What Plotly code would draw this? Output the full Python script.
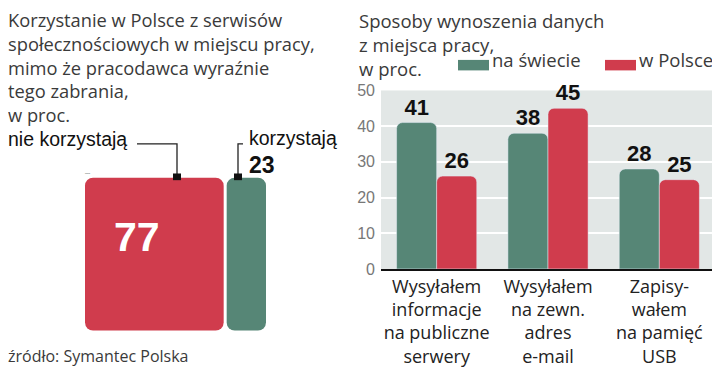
import plotly.graph_objects as go

# ---- data ----
share_labels = ["nie korzystają", "korzystają"]
share_values = [77, 23]

categories = [
    "Wysyłałem<br>informacje<br>na publiczne<br>serwery",
    "Wysyłałem<br>na zewn.<br>adres<br>e-mail",
    "Zapisy-<br>wałem<br>na pamięć<br>USB",
]
series_names = ["na świecie", "w Polsce"]
world_values = [41, 38, 28]
poland_values = [26, 45, 25]
y_ticks = [0, 10, 20, 30, 40, 50]

GREEN = "#568676"
RED = "#d03c4d"
TXT = "#3a3a3a"
FONT = "Open Sans"
BOLD = "Liberation Sans Narrow, Liberation Sans"

W, H = 720, 373
OFF = 8  # page offset of the figure in the browser window
def px(x): return (x - OFF) / W
def py(y): return 1 - (y - OFF) / H

fig = go.Figure()

# left: share of users, as a rounded square split by area
root = "ogółem"
PAD = 8
fig.add_trace(go.Treemap(
    labels=[root] + share_labels, parents=[""] + [root] * len(share_labels),
    values=[sum(share_values)] + share_values, branchvalues="total",
    sort=False, tiling=dict(packing="dice", pad=3),
    marker=dict(colors=["rgba(0,0,0,0)", RED, GREEN], cornerradius=14, line=dict(width=0),
                pad=dict(t=PAD, l=PAD, r=PAD, b=PAD)),
    pathbar=dict(visible=False), textinfo="none", hoverinfo="label+value",
    domain=dict(x=[px(85 - PAD), px(266 + PAD)], y=[py(338 + PAD), py(177 - PAD)]),
))

# right: bars
for name, vals, col in [(series_names[0], world_values, GREEN), (series_names[1], poland_values, RED)]:
    fig.add_trace(go.Bar(
        x=categories, y=vals, name=name, marker_color=col,
        text=[str(v) for v in vals], textposition="outside",
        textfont=dict(family=BOLD, size=22, color="#111", weight="bold"),
        cliponaxis=False, showlegend=False,
    ))

fig.update_layout(
    width=W, height=H, margin=dict(l=0, r=0, t=0, b=0),
    paper_bgcolor="white", plot_bgcolor="#e2e7e6",
    font=dict(family=FONT, color=TXT, size=17),
    barmode="group", bargap=0.28, bargroupgap=0.0, barcornerradius=6,
    xaxis=dict(domain=[px(381), px(715)], showline=True, linecolor="#111", linewidth=2,
               ticks="", tickfont=dict(size=18, color="#222"), fixedrange=True),
    yaxis=dict(domain=[py(273), py(86)], range=[0, 50], tickvals=y_ticks,
               showgrid=True, gridcolor="white", gridwidth=2, zeroline=False,
               ticks="", tickfont=dict(family="Liberation Sans", size=16, color="#777"),
               ticklabelstandoff=5),
)

ann = []
def A(x, y, text, size, xanchor="left", color=TXT, family=FONT, weight=None):
    f = dict(size=size, color=color, family=family)
    if weight:
        f["weight"] = weight
    ann.append(dict(x=px(x), y=py(y), xref="paper", yref="paper", xanchor=xanchor, yanchor="middle",
                    align="left", showarrow=False, text=text, font=f))

left_title = ["Korzystanie w Polsce z serwisów", "społecznościowych w miejscu pracy,",
              "mimo że pracodawca wyraźnie", "tego zabrania,", "w proc."]
right_title = ["Sposoby wynoszenia danych", "z miejsca pracy,", "w proc."]
A(6, 61, "<br>".join(left_title), 18.3)
A(357, 38, "<br>".join(right_title), 18.5)
# legend
A(490, 54, series_names[0], 18.5)
A(637, 54, series_names[1], 18.5)
# share labels
A(6, 137, share_labels[0], 19.5, color="#111", family="Liberation Sans")
A(247, 136, share_labels[1], 19.5, color="#111", family="Liberation Sans")
A(247, 164, str(share_values[1]), 23, color="#111", family=BOLD, weight="bold")
A(137, 240, str(share_values[0]), 41, xanchor="center", color="white", family=BOLD, weight="bold")
# source
A(6, 364, "źródło: Symantec Polska", 16)
fig.update_layout(annotations=ann)

def P(x, y):
    return f"{px(x)} {py(y)}"

shapes = [
    dict(type="rect", xref="paper", yref="paper", x0=px(458), x1=px(489), y0=py(65), y1=py(54),
         fillcolor=GREEN, line=dict(width=0)),
    dict(type="rect", xref="paper", yref="paper", x0=px(605), x1=px(636), y0=py(65), y1=py(54),
         fillcolor=RED, line=dict(width=0)),
    dict(type="path", xref="paper", yref="paper",
         path=f"M {P(137, 142)} L {P(177, 142)} L {P(177, 174)}",
         line=dict(color="#222", width=1.3)),
    dict(type="path", xref="paper", yref="paper",
         path=f"M {P(243, 142)} L {P(238, 142)} L {P(238, 174)}",
         line=dict(color="#222", width=1.3)),
    dict(type="rect", xref="paper", yref="paper", x0=px(173), x1=px(181), y0=py(180), y1=py(173),
         fillcolor="#111", line=dict(width=0)),
    dict(type="rect", xref="paper", yref="paper", x0=px(234), x1=px(242), y0=py(180), y1=py(173),
         fillcolor="#111", line=dict(width=0)),
]
fig.update_layout(shapes=shapes)

fig.write_html("out.html")
